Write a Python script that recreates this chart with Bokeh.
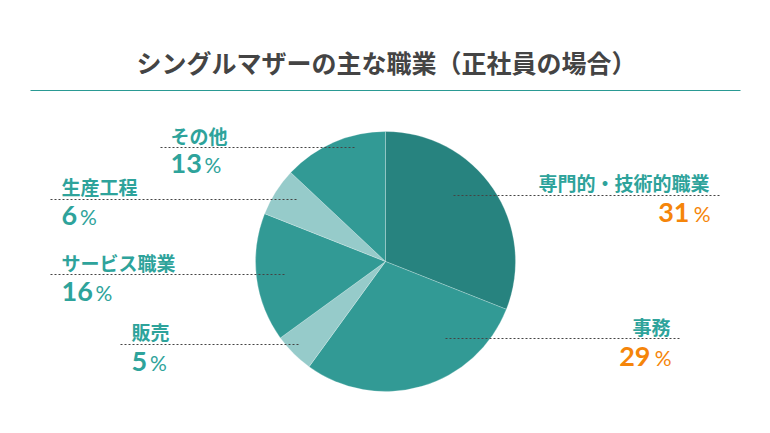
import math
from bokeh.plotting import figure
from bokeh.models import Range1d, ColumnDataSource
from bokeh.core.properties import value
from bokeh.embed import file_html
from bokeh.resources import INLINE

# ---- data ----
categories = ["専門的・技術的職業", "事務", "販売", "サービス職業", "生産工程", "その他"]
shares = [31, 29, 5, 16, 6, 13]
slice_colors = ["#27837f", "#329a95", "#96cbca", "#329a95", "#96cbca", "#329a95"]
title_text = "シングルマザーの主な職業（正社員の場合）"

W, H = 770, 433
def Y(py):
    return H - py

p = figure(width=W, height=H, output_backend="svg", toolbar_location=None,
           x_range=Range1d(0, W), y_range=Range1d(0, H), min_border=0)
p.axis.visible = False
p.grid.visible = False
p.outline_line_color = None
p.background_fill_color = "white"
p.border_fill_color = "white"

JP = value("Noto Sans CJK JP")
NUM = value("Lato")

# title
p.text(x=[386], y=[Y(61)], text=[title_text], text_font=JP, text_font_size="25px",
       text_font_style="bold", text_color="#444444", text_align="center", text_baseline="middle")
p.line(x=[30, 740], y=[Y(90), Y(90)], line_color="#2a9a94", line_width=1)

# pie
cx, cy, r = 385, Y(261), 130
total = sum(shares)
starts, ends = [], []
cum = 0
for s in shares:
    starts.append(math.pi / 2 - 2 * math.pi * cum / total)
    cum += s
    ends.append(math.pi / 2 - 2 * math.pi * cum / total)
src = ColumnDataSource(dict(start=starts, end=ends, color=slice_colors))
p.wedge(x=cx, y=cy, radius=r, start_angle="start", end_angle="end", direction="clock",
        fill_color="color", line_color="white", line_width=0.4, line_alpha=0.6, source=src)

# label layout: (label x, label y, leader x0, x1, leader y, pct y, align, pct color)
layout = {
    "専門的・技術的職業": (709, 182, 453, 720, 195, 212, "right", "#f5850a"),
    "事務": (670, 326, 445, 680, 338, 356, "right", "#f5850a"),
    "販売": (131, 331, 120, 298, 344, 361, "left", "#2ea39b"),
    "サービス職業": (61, 262, 50, 285, 274, 291, "left", "#2ea39b"),
    "生産工程": (61, 186, 50, 297, 199, 215, "left", "#2ea39b"),
    "その他": (170, 135, 160, 355, 147, 163, "left", "#2ea39b"),
}
label_color = "#2ea39b"
digit_w = 15.5
pct_w = 18
for cat, val in zip(categories, shares):
    lx, ly, x0, x1, lny, py, align, pc = layout[cat]
    p.line(x=[x0, x1], y=[Y(lny), Y(lny)], line_color="#444444", line_width=1, line_dash="2 2")
    p.text(x=[lx], y=[Y(ly)], text=[cat], text_font=JP, text_font_size="19px",
           text_font_style="bold", text_color=label_color, text_align=align, text_baseline="middle")
    num = str(val)
    if align == "left":
        nx = lx
        px = lx + digit_w * len(num) + 3
        p.text(x=[nx], y=[Y(py)], text=[num], text_font=NUM, text_font_size="27px",
               text_font_style="bold", text_color=pc, text_align="left", text_baseline="middle")
        p.text(x=[px], y=[Y(py) - 1], text=["%"], text_font=NUM, text_font_size="21px",
               text_color=pc, text_align="left", text_baseline="middle")
    else:
        px = lx + 1
        nx = px - pct_w - 3
        p.text(x=[nx], y=[Y(py)], text=[num], text_font=NUM, text_font_size="27px",
               text_font_style="bold", text_color=pc, text_align="right", text_baseline="middle")
        p.text(x=[px], y=[Y(py) - 1], text=["%"], text_font=NUM, text_font_size="21px",
               text_color=pc, text_align="right", text_baseline="middle")

open("out.html", "w").write(file_html(p, INLINE))
